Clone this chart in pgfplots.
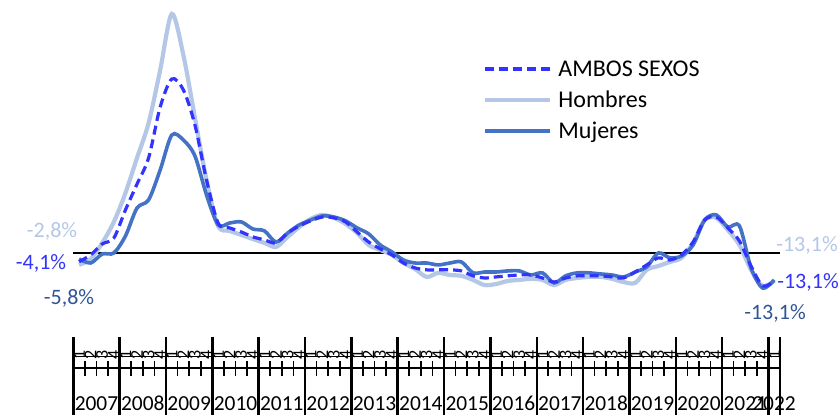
\documentclass[border=0pt]{standalone}
\usepackage{pgfplots}
\pgfplotsset{compat=1.18}
\usepackage{pgfplotstable}
\usepackage{fontspec}
\setmainfont{Carlito}
\definecolor{ambos}{HTML}{3333FF}
\definecolor{hombres}{HTML}{B4C7E7}
\definecolor{mujeres}{HTML}{4472C4}
\definecolor{mujlab}{HTML}{2F5597}

\pgfplotstableread{
i ambos hombres mujeres
0 -4.1 -5.6 -2.8
1 -0.9 -2.8 -4.7
2 4.2 4.7 -0.5
3 7.0 14.5 0.0
4 20.1 28.0 7.9
5 32.2 44.4 21.0
6 44.4 60.7 24.8
7 68.2 85.5 38.8
8 81.3 111.7 55.1
9 76.2 92.5 52.8
10 59.8 63.1 45.3
11 34.1 34.1 27.1
12 14.0 12.6 13.1
13 11.7 10.3 14.0
14 9.8 8.4 14.5
15 7.5 6.5 11.2
16 6.1 4.7 10.3
17 4.7 2.8 5.1
18 9.3 7.5 9.3
19 12.6 12.1 13.1
20 15.0 15.9 15.4
21 16.8 17.8 17.3
22 16.4 16.4 16.8
23 14.5 13.6 15.0
24 9.8 9.3 11.7
25 5.1 3.7 8.9
26 1.9 1.4 3.7
27 -0.9 -0.9 0.5
28 -4.7 -4.7 -3.3
29 -7.0 -7.5 -4.7
30 -7.9 -11.2 -4.7
31 -7.9 -9.3 -5.6
32 -7.9 -10.3 -4.7
33 -8.4 -10.7 -4.2
34 -10.7 -12.6 -9.3
35 -11.7 -15.0 -8.9
36 -11.2 -14.5 -8.9
37 -10.7 -13.1 -8.4
38 -10.3 -12.6 -8.4
39 -10.3 -12.1 -10.3
40 -11.7 -12.6 -9.3
41 -13.6 -15.0 -14.0
42 -11.7 -12.6 -10.7
43 -10.7 -11.7 -9.3
44 -10.7 -11.2 -9.3
45 -10.7 -11.2 -9.8
46 -11.2 -12.1 -10.3
47 -11.7 -13.6 -11.2
48 -8.9 -14.0 -8.9
49 -5.6 -7.9 -6.5
50 -2.3 -6.1 0.0
51 -3.3 -4.2 -2.3
52 -0.9 -2.3 -1.4
53 5.1 4.7 3.7
54 15.4 15.4 15.4
55 16.8 16.4 17.8
56 11.7 10.7 12.1
57 5.6 3.7 12.6
58 -6.1 -7.9 -7.0
59 -15.4 -15.4 -16.4
60 -13.1 -13.1 -12.6
}\datatable

\begin{document}
\begin{tikzpicture}
\path[use as bounding box] (0,0) rectangle (419pt,207.5pt);
\begin{axis}[
  at={(36.65pt,42.5pt)}, anchor=south west,
  scale only axis, width=353.35pt, height=165pt,
  xmin=-0.5, xmax=60.5, ymin=-36, ymax=118.2,
  axis line style={draw=none}, xtick=\empty, ytick=\empty,
  clip=false,
]
\draw[black, line width=1pt] (axis cs:-0.5,0) -- (axis cs:60.5,0);
\addplot[hombres, line width=2.1pt, smooth, no marks] table[x=i, y=hombres] {\datatable};
\addplot[mujeres, line width=1.8pt, smooth, no marks] table[x=i, y=mujeres] {\datatable};
\addplot[ambos, line width=1.6pt, dash pattern=on 4.5pt off 2.5pt, smooth, no marks] table[x=i, y=ambos] {\datatable};
\end{axis}
\begin{scope}[x=0.5pt, y=-0.5pt, shift={(0,207.5pt)}]
  % legend
  \draw[ambos, line width=1.6pt, dash pattern=on 4.5pt off 2.5pt] (485,69) -- (550,69);
  \draw[hombres, line width=2.1pt] (485,100) -- (550,100);
  \draw[mujeres, line width=1.8pt] (485,131) -- (550,131);
  \begin{scope}[every node/.style={anchor=base west, inner sep=0pt, font=\fontsize{12}{14}\selectfont}]
  \node at (558,76.7) {AMBOS SEXOS};
  \node at (558,107.7) {Hombres};
  \node at (558,138.7) {Mujeres};
  \end{scope}
  % data labels
  \begin{scope}[every node/.style={anchor=base, inner sep=0pt, font=\fontsize{11}{13}\selectfont}]
  \node[text=hombres] at (52,237.5) {-2,8\%};
  \node[text=ambos] at (41,270) {-4,1\%};
  \node[text=mujlab] at (69,305) {-5,8\%};
  \node[text=hombres] at (807,251.5) {-13,1\%};
  \node[text=ambos] at (808,288.5) {-13,1\%};
  \node[text=mujlab] at (775,319.5) {-13,1\%};
  \end{scope}
  % category axis
  \draw[black, line width=0.8pt] (73.3,356.5) -- (780,356.5);
  \draw[black, line width=0.8pt] (73.3,368) -- (780,368);
  \foreach \k in {0,...,61} {
    \draw[black, line width=0.8pt] ({73.3+11.585*\k},361) -- ({73.3+11.585*\k},376);
  }
  \foreach \j in {0,...,15} {
    \draw[black, line width=1.2pt] ({73.3+46.34*\j},337) -- ({73.3+46.34*\j},415);
  }
  \draw[black, line width=1.2pt] (780,337) -- (780,415);
  \foreach \i in {0,...,60} {
    \pgfmathtruncatemacro{\q}{mod(\i,4)+1}
    \node[rotate=90, inner sep=0pt, font=\fontsize{9}{10}\selectfont] at ({79+11.585*\i},355) {\q};
  }
  \foreach \j in {0,...,14} {
    \pgfmathtruncatemacro{\yr}{2007+\j}
    \node[anchor=base, inner sep=0pt, font=\fontsize{10.7}{12}\selectfont] at ({73.3+46.34*\j+23.17},411) {\yr};
  }
  \node[anchor=base, inner sep=0pt, font=\fontsize{10.7}{12}\selectfont] at (774,411) {2022};
\end{scope}
\end{tikzpicture}
\end{document}
